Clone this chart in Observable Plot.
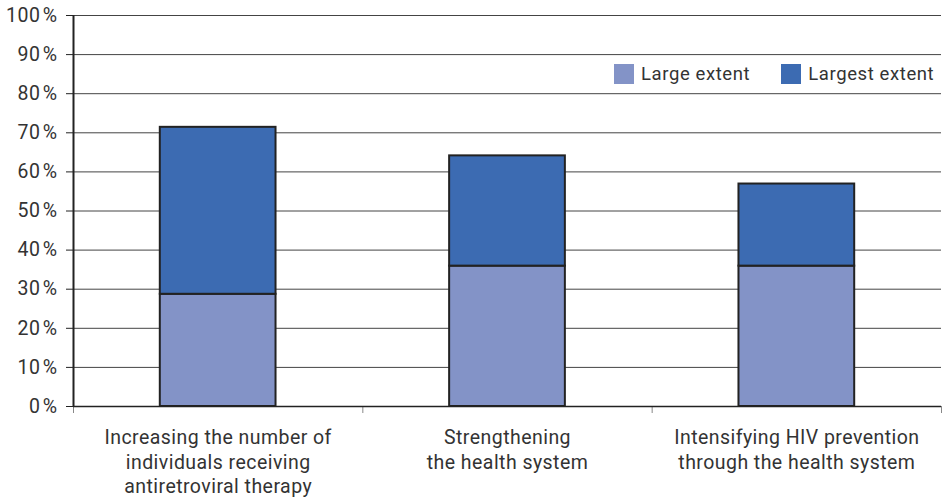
<!DOCTYPE html>
<html>
<head>
<meta charset="utf-8">
<script src="https://cdn.jsdelivr.net/npm/d3@7"></script>
<script src="https://cdn.jsdelivr.net/npm/@observablehq/plot@0.6"></script>
<style>
  html, body { margin: 0; padding: 0; background: #fff; }
  #wrap { position: relative; width: 946px; height: 501px; font-family: Roboto, sans-serif; }
  #wrap svg text { letter-spacing: 0.45px; }
  .legend { position: absolute; top: 64px; left: 614px; display: flex; align-items: center; font-size: 18.5px; color: #333; line-height: 20px; white-space: nowrap; letter-spacing: 0.6px; }
  .sw { display: inline-block; width: 20px; height: 20px; margin-right: 7px; }
  .item { display: flex; align-items: center; margin-right: 31px; }
</style>
</head>
<body>
<div id="wrap"></div>
<script>
const categories = [
  "Increasing the number of\nindividuals receiving\nantiretroviral therapy",
  "Strengthening\nthe health system",
  "Intensifying HIV prevention\nthrough the health system"
];
const seriesNames = ["Large extent", "Largest extent"];
const largeExtent = [28.7, 35.9, 35.9];
const largestExtent = [42.7, 28.2, 21.0];
const yTicks = [0, 10, 20, 30, 40, 50, 60, 70, 80, 90, 100];
const colors = ["#8393c7", "#3c6bb2"];

const rows = [];
categories.forEach((c, i) => {
  rows.push({cat: c, i, series: seriesNames[0], y1: 0, y2: largeExtent[i]});
  rows.push({cat: c, i, series: seriesNames[1], y1: largeExtent[i], y2: largeExtent[i] + largestExtent[i]});
});

const chart = Plot.plot({
  width: 946,
  height: 501,
  marginLeft: 73,
  marginRight: 5,
  marginTop: 15,
  marginBottom: 95,
  style: {fontFamily: "Roboto, sans-serif", fontSize: "19px", color: "#333", background: "#fff"},
  x: {domain: [0, categories.length], axis: null},
  y: {domain: [0, 100], axis: null},
  color: {domain: seriesNames, range: colors},
  marks: [
    Plot.gridY(yTicks.slice(1), {stroke: "#444", strokeOpacity: 1}),
    Plot.axisY({ticks: yTicks, tickFormat: d => d + "\u200A%", tickSize: 7, tickPadding: 9, fontSize: 19.5, stroke: "#222", fill: "#333"}),
    Plot.axisX({ticks: d3.range(categories.length + 1), tickFormat: () => "", tickSize: 7, stroke: "#888"}),
    Plot.rect(rows, {x1: d => d.i + 0.3, x2: d => d.i + 0.7, y1: "y1", y2: "y2", fill: "series", stroke: "#222", strokeWidth: 2}),
    Plot.ruleY([0], {stroke: "#222", strokeWidth: 1.5}),
    Plot.ruleX([0], {stroke: "#222", strokeWidth: 2}),
    Plot.text(categories, {x: (d, i) => i + 0.5, y: 0, dy: 20, lineAnchor: "top", lineHeight: 1.26, fontSize: 19.5, fill: "#333"})
  ]
});
const wrap = document.getElementById("wrap");
wrap.appendChild(chart);

const legend = document.createElement("div");
legend.className = "legend";
seriesNames.forEach((s, k) => {
  const it = document.createElement("span");
  it.className = "item";
  const sw = document.createElement("span");
  sw.className = "sw";
  sw.style.background = colors[k];
  it.appendChild(sw);
  it.appendChild(document.createTextNode(s));
  legend.appendChild(it);
});
wrap.appendChild(legend);
</script>
</body>
</html>
